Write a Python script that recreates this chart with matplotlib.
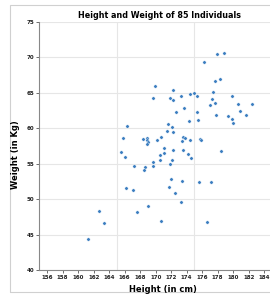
import matplotlib
matplotlib.use("Agg")
import matplotlib.pyplot as plt
import numpy as np
from matplotlib.patches import Rectangle

# heights (cm) and weights (kg)
height = [169.9, 169.7, 172.2, 171.8, 172.3, 173.3, 174.4, 175.0, 175.4, 176.3,
          177.3, 177.35, 177.6, 177.9, 178.3, 178.85, 179.9, 177.65, 176.96, 180.57,
          182.38, 172.6, 173.65, 175.28, 180.94, 177.84, 179.32, 181.67, 174.33, 175.49,
          179.88, 179.93, 166.33, 171.54, 172.05, 171.43, 172.23, 165.77, 168.38, 168.83,
          168.91, 169.03, 168.86, 170.19, 170.72, 173.48, 173.79, 174.42, 173.39, 175.74,
          175.79, 171.04, 172.26, 173.49, 178.46, 165.55, 170.52, 171.12, 174.15, 174.5,
          166.07, 170.5, 172.06, 169.62, 167.17, 168.57, 168.55, 169.61, 171.86, 171.95,
          173.45, 175.53, 177.12, 166.23, 167.09, 171.75, 172.45, 173.27, 168.97, 167.59,
          170.74, 176.59, 162.68, 163.32, 161.26]
weight = [66.0, 64.3, 65.4, 64.3, 64.0, 64.5, 64.8, 65.0, 64.6, 69.4,
          64.1, 65.1, 66.65, 70.45, 67.0, 70.67, 64.54, 63.62, 63.3, 63.44,
          63.48, 62.27, 62.81, 62.36, 62.5, 61.85, 61.78, 61.85, 61.04, 61.14,
          61.33, 60.76, 60.27, 60.62, 60.2, 59.63, 59.49, 58.61, 58.47, 58.68,
          58.37, 58.04, 57.77, 58.41, 58.82, 58.82, 58.69, 58.37, 58.23, 58.51,
          58.32, 57.27, 57.01, 56.94, 56.87, 56.63, 56.27, 56.56, 56.39, 55.87,
          55.97, 55.5, 55.53, 55.29, 54.74, 54.56, 54.11, 54.7, 54.96, 52.92,
          52.61, 52.46, 52.43, 51.64, 51.25, 51.74, 50.92, 49.67, 49.1, 48.25,
          46.95, 46.84, 48.36, 46.62, 44.37]

x_ticks = list(range(156, 186, 2))
x_grid = [160, 165, 170, 175, 180]
y_ticks = [40, 45, 50, 55, 60, 65, 70, 75]

fig = plt.figure(figsize=(2.7, 2.96), dpi=100)
ax = fig.add_axes([0.146, 0.0868, 0.861, 0.839])

# light frame around the whole chart
fig.patches.append(Rectangle((10 / 270, 4 / 296), 1.2, 1 - 9 / 296,
                             transform=fig.transFigure, fill=False,
                             edgecolor='#d0d0d0', linewidth=0.8))

ax.scatter(height, weight, s=6, color='#3a7dc0', edgecolor='white',
           linewidth=0.3, zorder=3)

ax.set_xlim(155, 185)
ax.set_ylim(40, 75)
ax.set_xticks(x_ticks)
ax.set_yticks(y_ticks)
ax.set_xticks(x_grid, minor=True)
ax.tick_params(axis='both', which='major', labelsize=4, length=2, width=0.6,
               pad=1.5, color='#555555', labelcolor='#222222')
ax.tick_params(axis='x', which='minor', length=0)
for lab in ax.get_xticklabels() + ax.get_yticklabels():
    lab.set_fontweight('bold')

ax.grid(False)
ax.yaxis.grid(True, color='#e6e6e6', linewidth=0.8, zorder=0)
ax.xaxis.grid(True, which='minor', color='#e6e6e6', linewidth=0.8, zorder=0)
ax.set_axisbelow(True)

for side in ['top', 'right']:
    ax.spines[side].set_visible(False)
for side in ['left', 'bottom']:
    ax.spines[side].set_color('#888888')
    ax.spines[side].set_linewidth(0.8)

fig.text(160 / 270, 1 - 16 / 296, 'Height and Weight of 85 Individuals',
         ha='center', va='center', fontsize=5.8, fontweight='bold')
fig.text(163 / 270, 1 - 289 / 296, 'Height (in cm)', ha='center', va='center',
         fontsize=6, fontweight='bold')
fig.text(15 / 270, 1 - 155 / 296, 'Weight (in Kg)', ha='center', va='center',
         rotation=90, fontsize=6, fontweight='bold')

fig.savefig('out.png', dpi=100)
